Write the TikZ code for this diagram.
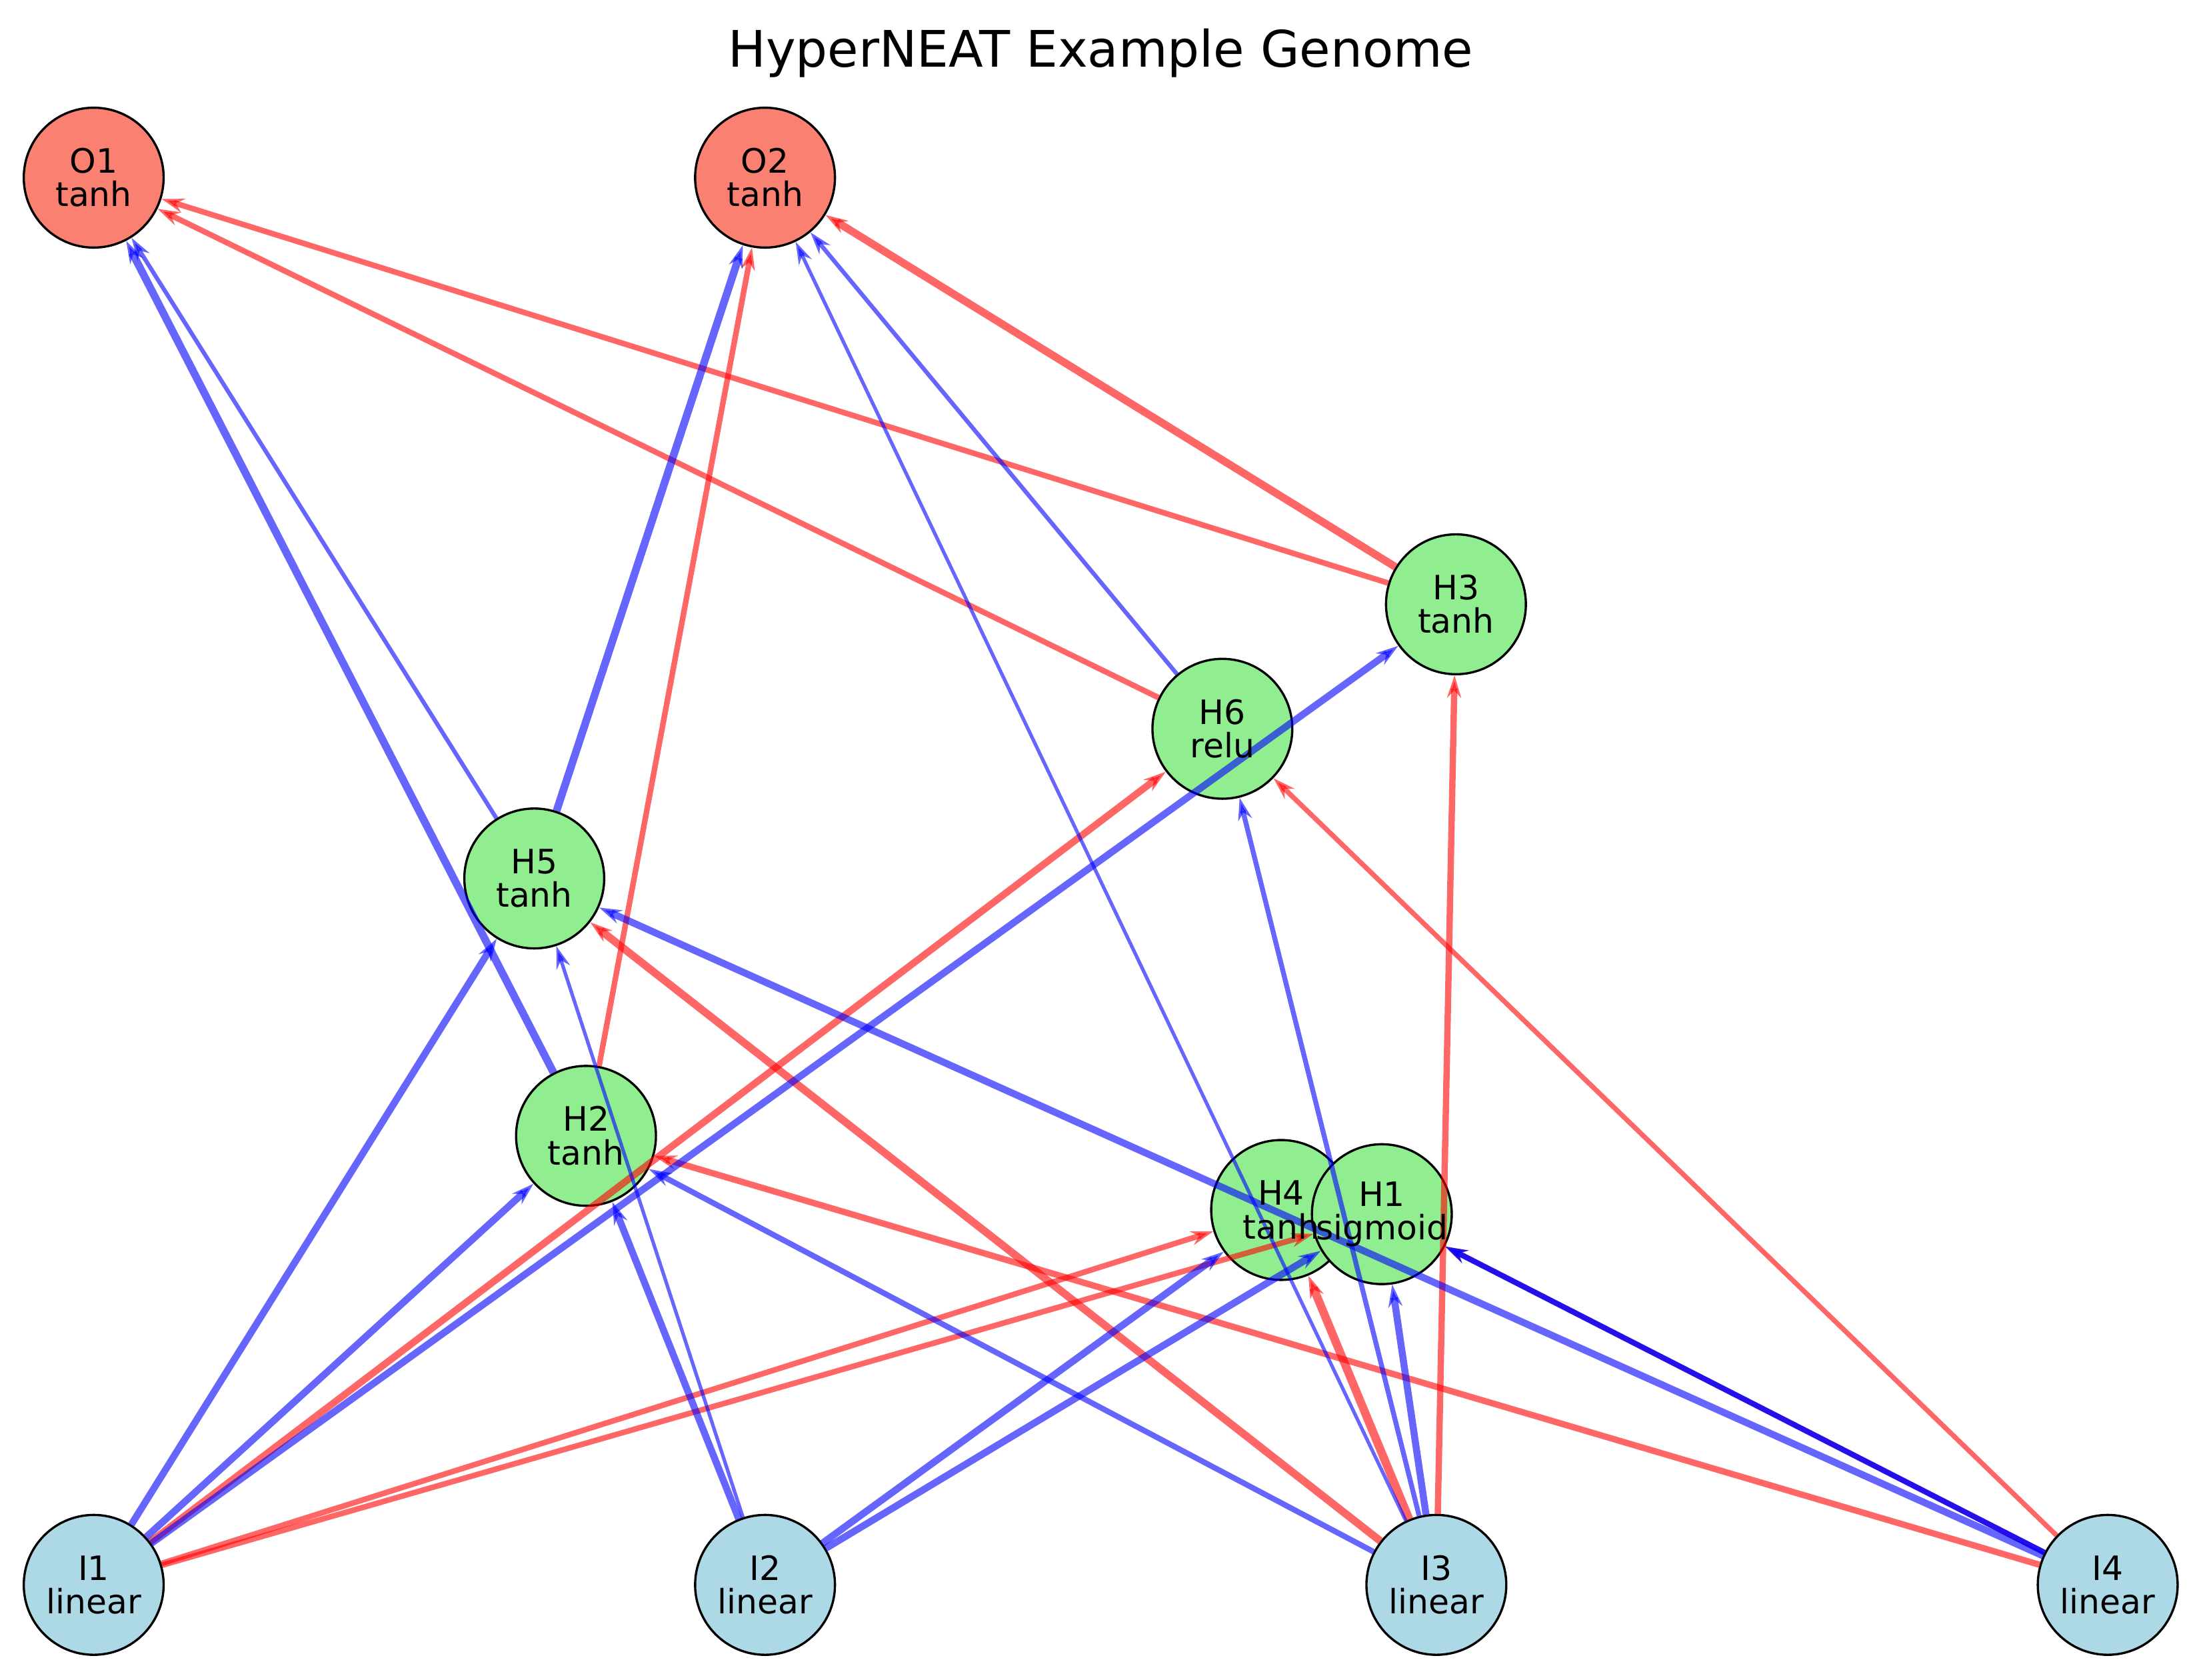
\documentclass[tikz,border=0pt]{standalone}
\usepackage{fontspec}
\setmainfont{DejaVu Sans}
\usetikzlibrary{arrows.meta}
\definecolor{lblue}{HTML}{ADD8E6}
\definecolor{lgreen}{HTML}{90EE90}
\definecolor{salmon}{HTML}{FA8072}
\begin{document}
\begin{tikzpicture}[x=1pt,y=-1pt,
  nd/.style={circle,draw=black,line width=1.6pt,minimum size=100pt,inner sep=0pt},
  inp/.style={nd,fill=lblue},
  hid/.style={nd,fill=lgreen},
  outn/.style={nd,fill=salmon},
  lab/.style={align=center,font=\fontsize{24}{24}\selectfont,inner sep=0pt},
  e/.style={-{Stealth[length=16pt,width=10pt]},opacity=0.6,line width=#1},
  b/.style={e=#1,blue}, r/.style={e=#1,red}]
\useasboundingbox (0,0) rectangle (1568,1201);
\node[font=\fontsize{36}{36}\selectfont] (title) at (787,38) {HyperNEAT Example Genome};
\node[outn] (O1) at (67,127) {}; \node[outn] (O2) at (547,127) {};
\node[hid] (H3) at (1041,432) {}; \node[hid] (H6) at (874,521) {};
\node[hid] (H5) at (382,628) {}; \node[hid] (H2) at (419,812) {};
\node[hid] (H4) at (916,865) {}; \node[hid] (H1) at (988,868) {};
\node[inp] (I1) at (67,1133) {}; \node[inp] (I2) at (547,1133) {};
\node[inp] (I3) at (1027,1133) {}; \node[inp] (I4) at (1507,1133) {};
\draw[r=5pt] (I1)--(H6); \draw[r=4pt] (I1)--(H4); \draw[r=4pt] (I1)--(H1);
\draw[r=5.5pt] (I3)--(H5); \draw[r=6pt] (I3)--(H4); \draw[r=4.5pt] (I3)--(H3);
\draw[r=4.5pt] (I4)--(H2); \draw[r=3.5pt] (I4)--(H1); \draw[r=3.5pt] (I4)--(H6);
\draw[r=4pt] (H2)--(O2); \draw[r=4pt] (H3)--(O1); \draw[r=5.5pt] (H3)--(O2);
\draw[r=4pt] (H6)--(O1);
\draw[b=5pt] (I1)--(H5); \draw[b=5pt] (I1)--(H2); \draw[b=5pt] (I1)--(H3);
\draw[b=5pt] (I2)--(H2); \draw[b=2.5pt] (I2)--(H5); \draw[b=5pt] (I2)--(H4);
\draw[b=5pt] (I2)--(H1); \draw[b=4pt] (I3)--(H2); \draw[b=3.5pt] (I3)--(H6);
\draw[b=2.5pt] (I3)--(O2); \draw[b=5pt] (I3)--(H1); \draw[b=5pt] (I4)--(H5);
\draw[b=5.5pt] (H2)--(O1); \draw[b=3pt] (H5)--(O1);
\draw[b=5.5pt] (H5)--(O2); \draw[b=3pt] (H6)--(O2);
\draw[b=4pt,opacity=0.85] (I4)--(H1);
\foreach \n/\t in {O1/tanh,O2/tanh,H3/tanh,H6/relu,H5/tanh,H2/tanh,H4/tanh,H1/sigmoid,I1/linear,I2/linear,I3/linear,I4/linear}
  \node[lab] (L\n) at (\n) {\n\\\t};
\end{tikzpicture}
\end{document}
